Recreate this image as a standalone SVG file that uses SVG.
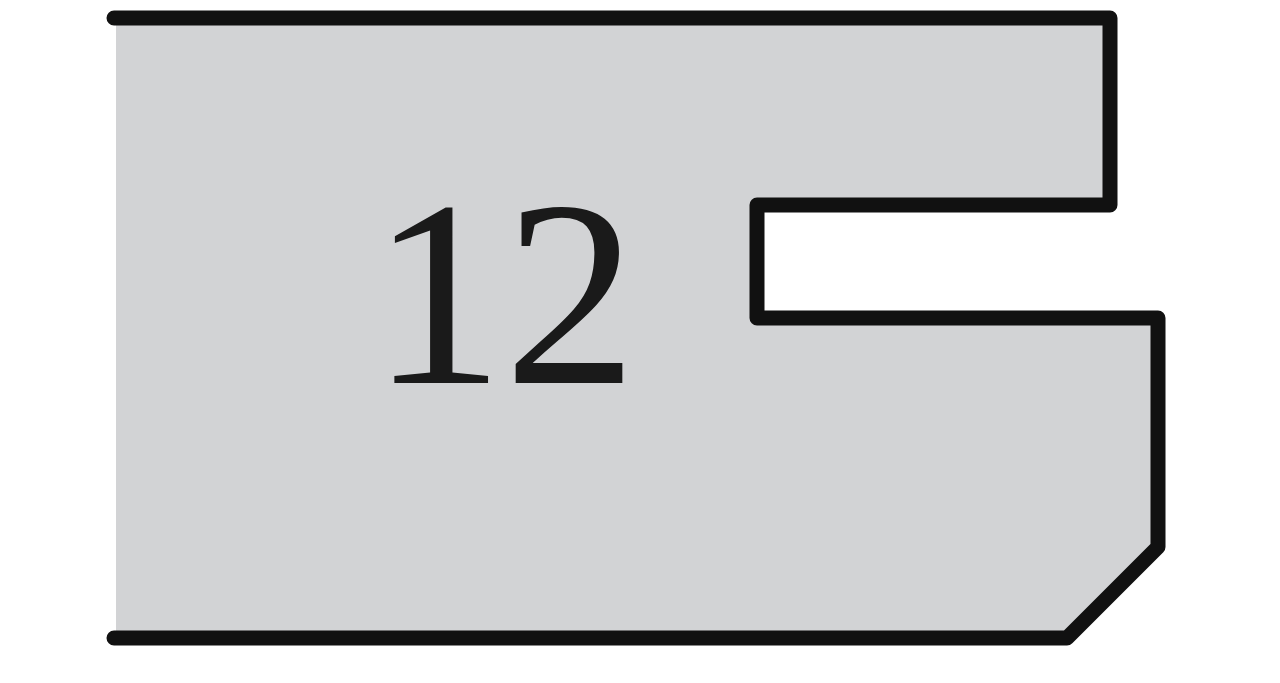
<svg xmlns="http://www.w3.org/2000/svg" width="1280" height="683" viewBox="0 0 1280 683">
<style>
.fill{fill:#d2d3d5;stroke:none}
.edge{fill:none;stroke:#111;stroke-width:15;stroke-linejoin:round;stroke-linecap:round}
.lbl{font-family:"Liberation Serif","Times New Roman",serif;font-size:266px;fill:#1a1a1a}
</style>
<rect width="1280" height="683" fill="#ffffff"/>
<g id="profile">
<path class="fill" d="M116,18 L1110,18 L1110,205 L757,205 L757,318 L1158,318 L1158,547 L1067,638 L116,638 Z"/>
<path class="edge" d="M114,18 L1110,18 L1110,205 L757,205 L757,318 L1158,318 L1158,547 L1067,638 L114,638"/>
<text class="lbl" x="504" y="383" text-anchor="middle">12</text>
</g>
</svg>
